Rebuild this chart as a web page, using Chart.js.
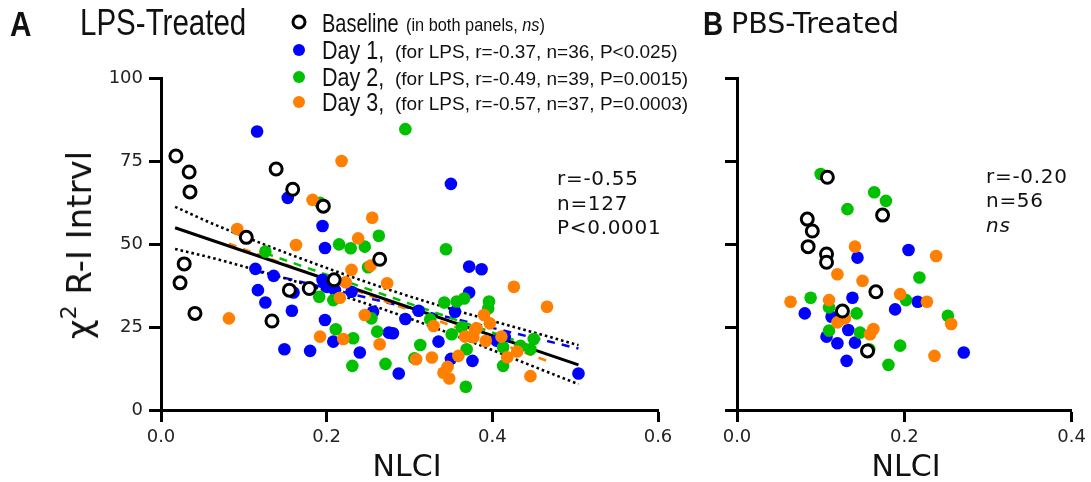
<!DOCTYPE html>
<html><head><meta charset="utf-8">
<script src="https://cdn.jsdelivr.net/npm/chart.js@4.4.0/dist/chart.umd.min.js"></script>
<style>
html,body{margin:0;padding:0;background:#fff;width:1091px;height:482px;overflow:hidden;}
#wrap{position:relative;width:1091px;height:482px;}
canvas{position:absolute;top:0;}
.t{position:absolute;white-space:nowrap;color:#111;line-height:1;transform:translateY(-50%);}
.nar{font-family:'Liberation Sans',Arial,sans-serif;transform-origin:0 50%;}
.dv{font-family:'DejaVu Sans',sans-serif;}
.ann{font-size:20px;letter-spacing:0.7px;}
.mk{position:absolute;border-radius:50%;transform:translate(-50%,-50%);}
</style></head><body>
<div id="wrap">
<canvas id="cL" width="680" height="482" style="left:0"></canvas>
<canvas id="cR" width="411" height="482" style="left:680px"></canvas>

<div class="t nar" style="left:10px;top:23px;font-size:35px;font-weight:bold;transform:translateY(-50%) scaleX(0.85);">A</div>
<div class="t nar" style="left:80px;top:23px;font-size:36px;transform:translateY(-50%) scaleX(0.82);">LPS-Treated</div>
<div class="t nar" style="left:703px;top:23px;font-size:34px;font-weight:bold;transform:translateY(-50%) scaleX(0.82);">B</div>
<div class="t dv" style="left:731px;top:24px;font-size:28.5px;">PBS-Treated</div>

<div class="mk" style="left:299px;top:22px;width:9px;height:9px;border:3px solid #000;"></div>
<div class="mk" style="left:299px;top:50px;width:12px;height:12px;background:#0000ff;"></div>
<div class="mk" style="left:299px;top:77px;width:12px;height:12px;background:#00c000;"></div>
<div class="mk" style="left:299px;top:102px;width:12px;height:12px;background:#ff7f00;"></div>

<div class="t nar" style="left:322px;top:23px;font-size:25px;transform:translateY(-50%) scaleX(0.8);">Baseline</div>
<div class="t nar" style="left:406px;top:24px;font-size:19px;transform:translateY(-50%) scaleX(0.86);">(in both panels, <i>ns</i>)</div>
<div class="t nar" style="left:322px;top:50px;font-size:25px;transform:translateY(-50%) scaleX(0.86);">Day 1,</div>
<div class="t nar" style="left:395px;top:51px;font-size:19px;">(for LPS, r=-0.37, n=36, P&lt;0.025)</div>
<div class="t nar" style="left:322px;top:77px;font-size:25px;transform:translateY(-50%) scaleX(0.86);">Day 2,</div>
<div class="t nar" style="left:395px;top:78px;font-size:19px;">(for LPS, r=-0.49, n=39, P=0.0015)</div>
<div class="t nar" style="left:322px;top:102px;font-size:25px;transform:translateY(-50%) scaleX(0.86);">Day 3,</div>
<div class="t nar" style="left:395px;top:103px;font-size:19px;">(for LPS, r=-0.57, n=37, P=0.0003)</div>

<div class="t dv ann" style="left:557px;top:178px;">r=-0.55</div>
<div class="t dv ann" style="left:557px;top:203px;">n=127</div>
<div class="t dv ann" style="left:557px;top:227px;">P&lt;0.0001</div>
<div class="t dv ann" style="left:986px;top:176px;">r=-0.20</div>
<div class="t dv ann" style="left:986px;top:200px;">n=56</div>
<div class="t dv ann" style="left:986px;top:225px;font-style:italic;">ns</div>

<div class="t dv" style="left:407px;top:466px;font-size:30px;transform:translate(-50%,-50%);">NLCI</div>
<div class="t dv" style="left:906px;top:466px;font-size:30px;transform:translate(-50%,-50%);">NLCI</div>
<div class="t dv" style="left:79px;top:245px;font-size:34px;transform:translate(-50%,-50%) rotate(-90deg);">&chi;<sup style="font-size:22px;vertical-align:0;position:relative;top:-15px;">2</sup> R-I Intrvl</div>
</div>
<script>
// ---- tick labels ----
const yTickValues = [0, 25, 50, 75, 100];
const lpsXTicks = [0, 0.2, 0.4, 0.6];
const pbsXTicks = [0, 0.2, 0.4];

// ---- LPS-treated panel (x = NLCI, y = chi2 R-I interval) ----
const lpsBaseline = [[0.018,76.5],[0.034,71.7],[0.035,65.7],[0.023,38.3],[0.028,44.0],[0.041,29.1],[0.139,72.6],[0.159,66.5],[0.196,61.4],[0.103,52.0],[0.134,26.8],[0.155,36.1],[0.179,36.6],[0.209,39.2],[0.264,45.4]];
const lpsDay1 = [[0.116,83.9],[0.153,63.9],[0.195,55.4],[0.198,48.8],[0.114,42.5],[0.117,36.1],[0.126,32.4],[0.160,35.4],[0.158,29.9],[0.149,18.3],[0.180,17.8],[0.195,39.2],[0.198,27.1],[0.136,40.4],[0.200,37.1],[0.210,36.1],[0.230,35.6],[0.208,20.6],[0.240,17.3],[0.256,29.6],[0.275,23.3],[0.372,43.2],[0.387,42.4],[0.280,23.1],[0.287,11.0],[0.295,27.4],[0.311,29.9],[0.335,20.6],[0.355,29.6],[0.372,35.4],[0.350,15.4],[0.376,14.8],[0.405,20.9],[0.415,22.1],[0.504,11.0],[0.350,68.1]];
const lpsDay2 = [[0.295,84.6],[0.263,52.5],[0.215,49.9],[0.229,48.7],[0.246,49.2],[0.344,48.4],[0.192,62.4],[0.126,47.7],[0.250,43.0],[0.191,34.1],[0.208,33.1],[0.211,24.3],[0.232,21.6],[0.231,13.3],[0.261,23.6],[0.271,13.9],[0.254,27.6],[0.313,19.6],[0.306,15.6],[0.342,32.4],[0.357,32.7],[0.366,33.6],[0.396,32.7],[0.395,30.6],[0.325,27.3],[0.351,22.8],[0.363,24.9],[0.369,18.3],[0.368,7.0],[0.413,18.9],[0.413,13.3],[0.434,19.3],[0.446,18.3],[0.450,21.4]];
const lpsDay3 = [[0.218,75.0],[0.092,54.5],[0.163,49.7],[0.183,63.3],[0.082,27.6],[0.192,22.1],[0.255,57.9],[0.238,51.7],[0.253,43.5],[0.230,42.2],[0.223,38.5],[0.216,33.8],[0.273,38.2],[0.220,21.4],[0.246,28.6],[0.264,19.8],[0.426,37.1],[0.466,31.1],[0.329,25.3],[0.308,15.3],[0.327,15.8],[0.359,16.3],[0.346,13.0],[0.341,11.2],[0.348,9.5],[0.379,24.1],[0.390,28.6],[0.397,26.1],[0.367,22.1],[0.377,21.9],[0.392,20.8],[0.411,22.1],[0.418,15.9],[0.430,17.6],[0.446,10.2],[0.381,24.6]];
// regression lines
const lpsFit = [[0.017,54.9],[0.504,13.6]];
const lpsCIUpper = [[0.017,61.2],[0.071,55.2],[0.277,36.1],[0.504,19.5]];
const lpsCILower = [[0.017,48.5],[0.071,45.2],[0.277,29.6],[0.504,7.8]];
const day1Fit = [[0.114,41.9],[0.504,18.5]];
const day2Fit = [[0.126,47.2],[0.450,19.0]];
const day3Fit = [[0.082,50.1],[0.466,14.8]];

// ---- PBS-treated panel ----
const pbsBaseline = [[0.108,70.1],[0.084,57.5],[0.090,53.9],[0.085,49.2],[0.107,47.0],[0.107,44.5],[0.174,58.7],[0.166,35.6],[0.126,29.8],[0.156,17.8]];
const pbsDay1 = [[0.144,45.9],[0.205,48.2],[0.138,33.8],[0.189,30.3],[0.216,32.6],[0.081,29.1],[0.113,28.1],[0.133,24.1],[0.107,22.1],[0.120,20.1],[0.141,20.3],[0.131,14.8],[0.271,17.3]];
const pbsDay2 = [[0.100,71.1],[0.164,65.6],[0.178,63.0],[0.132,60.5],[0.218,39.9],[0.202,33.1],[0.088,33.8],[0.110,30.9],[0.143,29.1],[0.110,23.9],[0.147,23.3],[0.158,18.3],[0.195,19.4],[0.181,13.6],[0.252,28.4]];
const pbsDay3 = [[0.141,49.2],[0.120,40.9],[0.150,38.9],[0.064,32.6],[0.110,33.1],[0.195,34.9],[0.227,32.6],[0.129,27.6],[0.120,26.4],[0.163,24.4],[0.159,22.8],[0.238,46.4],[0.256,25.9],[0.236,16.3]];

const BLUE = '#0000ff', GREEN = '#00c000', ORANGE = '#ff7f00';
const pts = a => a.map(([x, y]) => ({x, y}));

function dots(data, color) {
  return {data: pts(data), pointRadius: 6.3, pointBorderWidth: 0, pointBackgroundColor: color, pointBorderColor: color, showLine: false};
}
function base(data) {
  return {data: pts(data), pointRadius: 6, pointBorderWidth: 3, pointBackgroundColor: '#fff', pointBorderColor: '#000', showLine: false};
}
function line(data, color, width, dash) {
  return {data: pts(data), showLine: true, borderColor: color, borderWidth: width, borderDash: dash, pointRadius: 0, fill: false, cubicInterpolationMode: 'monotone', borderCapStyle: 'butt'};
}

function scales(xTicks, xMax, yWidth, yLabels) {
  const grid = {display: true, drawOnChartArea: false, drawTicks: true, tickLength: 12, tickWidth: 3, tickColor: '#000'};
  const border = {display: true, color: '#000', width: 3};
  return {
    x: {type: 'linear', min: 0, max: xMax,
        afterBuildTicks: a => { a.ticks = xTicks.map(v => ({value: v})); },
        afterFit: s => { s.height = 72; },
        ticks: {callback: v => Number(v).toFixed(1), font: {family: 'DejaVu Sans', size: 18}, color: '#222', padding: 5, maxRotation: 0, autoSkip: false},
        grid, border},
    y: {type: 'linear', min: 0, max: 100,
        afterBuildTicks: a => { a.ticks = yTickValues.map(v => ({value: v})); },
        afterFit: s => { s.width = yWidth; },
        ticks: {font: {family: 'DejaVu Sans', size: 18}, color: yLabels ? '#222' : 'rgba(0,0,0,0)', padding: 6, autoSkip: false},
        grid, border}
  };
}

const common = {responsive: false, animation: false, devicePixelRatio: 1, events: [],
  plugins: {legend: {display: false}, tooltip: {enabled: false}}};

new Chart(document.getElementById('cL'), {
  type: 'scatter',
  data: {datasets: [
    base(lpsBaseline),
    dots(lpsDay3, ORANGE),
    dots(lpsDay2, GREEN),
    dots(lpsDay1, BLUE),
    line(lpsFit, '#000', 3, []),
    line(lpsCIUpper, '#000', 2.6, [2.6, 3]),
    line(lpsCILower, '#000', 2.6, [2.6, 3]),
    line(day3Fit, ORANGE, 2.5, [8, 7]),
    line(day2Fit, GREEN, 2.5, [8, 7]),
    line(day1Fit, BLUE, 2.5, [8, 7])
  ]},
  options: Object.assign({}, common, {
    layout: {padding: {left: 0, top: 78, right: 22, bottom: 0}},
    scales: scales(lpsXTicks, 0.6, 161, true)
  })
});

new Chart(document.getElementById('cR'), {
  type: 'scatter',
  data: {datasets: [
    base(pbsBaseline),
    dots(pbsDay3, ORANGE),
    dots(pbsDay2, GREEN),
    dots(pbsDay1, BLUE)
  ]},
  options: Object.assign({}, common, {
    layout: {padding: {left: 0, top: 78, right: 19, bottom: 0}},
    scales: scales(pbsXTicks, 0.4, 57, false)
  })
});
</script>
</body></html>
